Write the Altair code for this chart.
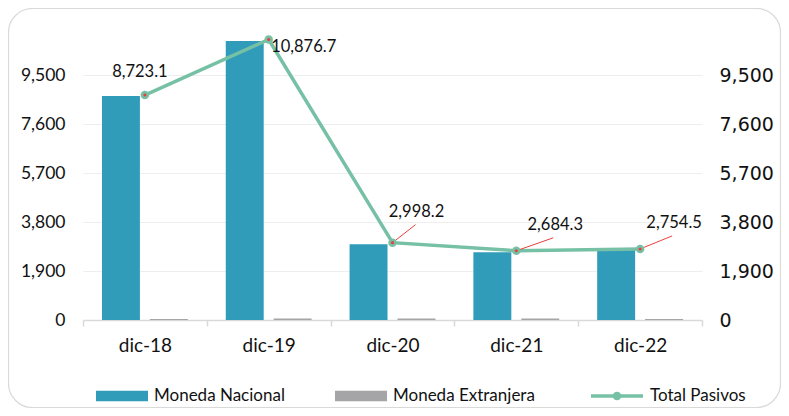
import altair as alt
import pandas as pd

# ---------------- data ----------------
categorias = ["dic-18", "dic-19", "dic-20", "dic-21", "dic-22"]
moneda_nacional = [8686.1, 10818.7, 2935.2, 2625.3, 2714.5]
moneda_extranjera = [37.0, 58.0, 63.0, 59.0, 40.0]
total_pasivos = [8723.1, 10876.7, 2998.2, 2684.3, 2754.5]
series = ["Moneda Nacional", "Moneda Extranjera"]
y_ticks = [0, 1900, 3800, 5700, 7600, 9500]
y_max = 11400
line_name = "Total Pasivos"

# ---------------- styles ----------------
BLUE = "#319cb9"
GRAY = "#a5a5a7"
GREEN = "#76c1a5"
RED = "#e8413b"
TXT = "#111111"
label_off = {"dic-18": (-5, -23), "dic-19": (35, 8), "dic-20": (24, -31),
             "dic-21": (39, -26), "dic-22": (34, -26)}
leader_off = {"dic-20": (23, -18), "dic-21": (37, -13), "dic-22": (32, -13)}

bars_df = pd.DataFrame(
    [{"cat": c, "serie": series[0], "valor": v} for c, v in zip(categorias, moneda_nacional)]
    + [{"cat": c, "serie": series[1], "valor": v} for c, v in zip(categorias, moneda_extranjera)]
)
line_df = pd.DataFrame({
    "cat": categorias,
    "total": total_pasivos,
    "label": [f"{v:,.1f}" for v in total_pasivos],
    "serie": [line_name] * len(categorias),
})

xscale = alt.Scale(paddingInner=0, paddingOuter=0)
xaxis = alt.Axis(title=None, labelFont="Lato", labelFontSize=19, labelColor=TXT,
                 labelPadding=10, domainColor="#d9d9d9", domainWidth=1.5,
                 tickColor="#d9d9d9", tickWidth=1.5, tickSize=6, tickBand="extent",
                 grid=False, labelAngle=0)
X = alt.X("cat:N", sort=categorias, scale=xscale, axis=xaxis)

yscale_l = alt.Scale(domain=[0, y_max], nice=False, zero=True)
yscale_r = alt.Scale(domain=[0, y_max], nice=False, zero=True)
yaxis_l = alt.Axis(title=None, values=y_ticks, format=",d", labelFont="Lato",
                   labelFontSize=17.5, labelColor=TXT, labelPadding=18, ticks=False,
                   domain=False, grid=True, gridColor="#eeeeee", gridWidth=1.2)
yaxis_r = alt.Axis(title=None, values=y_ticks, format=",d", orient="right",
                   labelFont="DejaVu Sans", labelFontSize=19, labelColor=TXT,
                   labelPadding=17, ticks=False, domain=False, grid=False)

card = alt.Chart(alt.Data(values=[{"k": 1}])).mark_rect(
    filled=False, stroke="#d9d9d9", strokeWidth=1.2, cornerRadius=24
).encode(x=alt.value(-74.5), x2=alt.value(697.5), y=alt.value(-17.5), y2=alt.value(381.5))

bars = alt.Chart(bars_df).mark_bar().encode(
    x=X,
    xOffset=alt.XOffset("serie:N", sort=series,
                        scale=alt.Scale(paddingInner=0.208, paddingOuter=0.396)),
    y=alt.Y("valor:Q", scale=yscale_l, axis=yaxis_l),
    color=alt.Color("serie:N", sort=series,
                    scale=alt.Scale(domain=series, range=[BLUE, GRAY]),
                    legend=alt.Legend(title=None, orient="none", legendX=13, legendY=344,
                                      direction="horizontal",
                                      symbolType="M-1,-0.2H1V0.2H-1Z", symbolSize=2704,
                                      symbolStrokeWidth=0, labelOffset=6,
                                      columnPadding=50, padding=0,
                                      labelFont="Lato", labelFontSize=17,
                                      labelColor=TXT)),
)

Y = alt.Y("total:Q", scale=yscale_r, axis=yaxis_r)

line = alt.Chart(line_df).mark_line(strokeWidth=3.5).encode(
    x=X, y=Y,
    stroke=alt.Stroke("serie:N",
                      scale=alt.Scale(domain=[line_name], range=[GREEN]),
                      legend=alt.Legend(title=None, orient="none", legendX=506,
                                        legendY=342,
                                        symbolType="M-1,0H1M0.1,0A0.1,0.1,0,1,1,-0.1,0A0.1,0.1,0,1,1,0.1,0Z",
                                        symbolSize=2704, symbolStrokeWidth=3.5,
                                        symbolFillColor=RED, symbolStrokeColor=GREEN,
                                        labelOffset=5, padding=0,
                                        labelFont="Lato", labelFontSize=17,
                                        labelColor=TXT)),
)
pts = alt.Chart(line_df).mark_point(filled=True, shape="circle", size=72, color=GREEN,
                                    opacity=1).encode(x=X, y=Y)
dots = alt.Chart(line_df).mark_point(filled=True, shape="circle", size=10, color=RED,
                                     opacity=1).encode(x=X, y=Y)

leaders = []
for c, (dx, dy) in leader_off.items():
    leaders.append(
        alt.Chart(line_df).transform_filter(alt.datum.cat == c)
        .mark_rule(color=RED, strokeWidth=1, x2Offset=dx, y2Offset=dy)
        .encode(x=alt.X("cat:N", sort=categorias, scale=xscale, axis=xaxis, bandPosition=0.5),
                x2=alt.X2("cat:N", bandPosition=0.5),
                y=Y, y2=alt.Y2("total:Q"))
    )

texts = []
for c, (dx, dy) in label_off.items():
    texts.append(
        alt.Chart(line_df).transform_filter(alt.datum.cat == c)
        .mark_text(dx=dx, dy=dy, align="center", baseline="middle", font="Lato",
                   fontSize=16.5, color=TXT)
        .encode(x=X, y=Y, text="label:N")
    )

overlay = alt.layer(line, *leaders, pts, dots, *texts)

chart = alt.layer(card, bars, overlay).resolve_scale(
    y="independent", color="independent", stroke="independent"
).properties(
    width=619, height=294,
    autosize=alt.AutoSizeParams(type="none"),
    padding={"left": 75, "top": 18, "right": 79, "bottom": 88},
    background="white",
).configure_view(stroke=None)

chart.save("out.html", embed_options={"renderer": "svg", "actions": False})
